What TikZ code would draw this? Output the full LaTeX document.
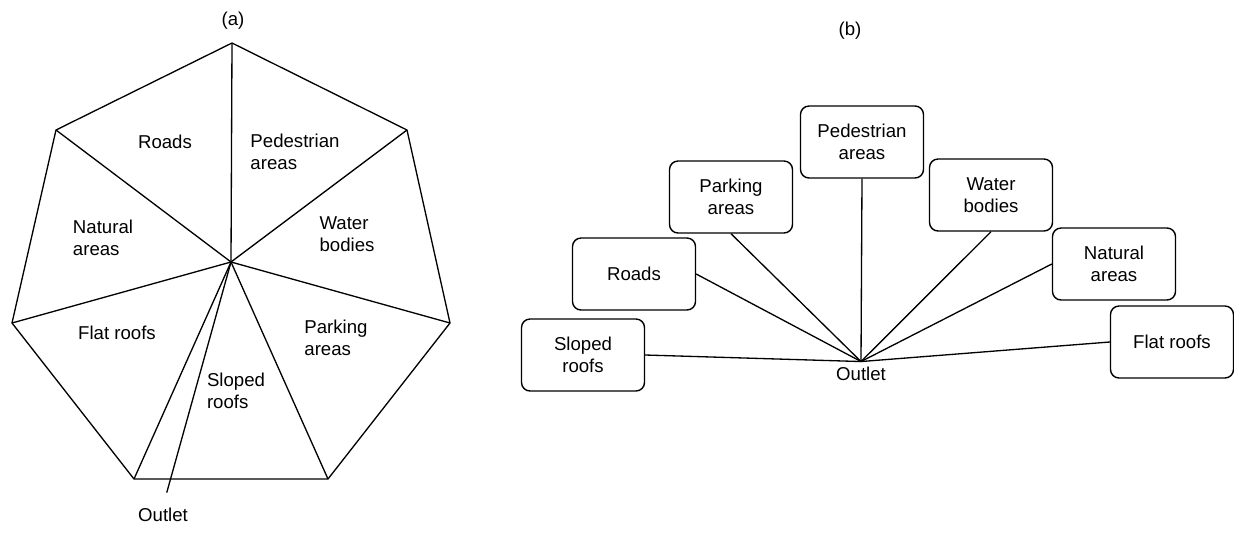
\documentclass[tikz,border=0pt]{standalone}
\usepackage{fontspec}
\setmainfont{Liberation Sans}
\usetikzlibrary{positioning}

\begin{document}
\begin{tikzpicture}[
  x=0.02cm, y=-0.02cm,
  font=\fontsize{10.6}{12.2}\selectfont,
  edge/.style={draw=black, line width=0.75pt, line join=round},
  lbl/.style={inner sep=1pt, align=left},
  ttl/.style={inner sep=1pt},
  area/.style={draw=black, line width=0.8pt, rounded corners=0.17cm,
               minimum width=2.46cm, minimum height=1.44cm, align=center,
               inner sep=2pt},
]
\useasboundingbox (0,0) rectangle (1234,545);

% ================================ (a) heptagon ================================
\node[ttl] (capa) at (233,21) {(a)};

\coordinate (hub) at (231,262);
\foreach \n/\x/\y in {1/232/43, 2/407/130, 3/450/323, 4/328/479,
                      5/134/479, 6/12/323, 7/56/130}
  \coordinate (p\n) at (\x,\y);
\draw[edge] (p1) -- (p2) -- (p3) -- (p4) -- (p5) -- (p6) -- (p7) -- cycle;
\foreach \n in {1,...,7}
  \draw[edge] (hub) -- (p\n);

\foreach \n/\x/\y/\t in {roadsa/165/142/{Roads},
                         peda/295/152/{Pedestrian\\areas},
                         nata/103/238/{Natural\\areas},
                         watera/347/234/{Water\\bodies},
                         flata/117/333/{Flat roofs},
                         parka/336/338/{Parking\\areas},
                         slopea/236/391/{Sloped\\roofs}}
  \node[lbl] (\n) at (\x,\y) {\t};

% the outlet sits below the heptagon, off the lower edge
\node[lbl] (outa) at (163,515) {Outlet};
\draw[edge, shorten >=0.28cm] (hub) -- (outa.north);

% ================================ (b) boxes ===================================
\node[ttl] (capb) at (850,31) {(b)};

\foreach \n/\x/\y/\t in {ped/862/142/{Pedestrian\\areas},
                         park/731/197/{Parking\\areas},
                         water/991/195/{Water\\bodies},
                         roads/634/274/{Roads},
                         nat/1114/264/{Natural\\areas},
                         slope/583/355/{Sloped\\roofs},
                         flat/1172/342/{Flat roofs}}
  \node[area] (\n) at (\x,\y) {\t};

\node[ttl, inner sep=3pt] (outb) at (861,374) {Outlet};

\foreach \n/\a in {slope/east, roads/east, park/south, ped/south,
                   water/south, nat/west, flat/west}
  \draw[edge] (\n.\a) -- (outb.north);
\end{tikzpicture}
\end{document}
